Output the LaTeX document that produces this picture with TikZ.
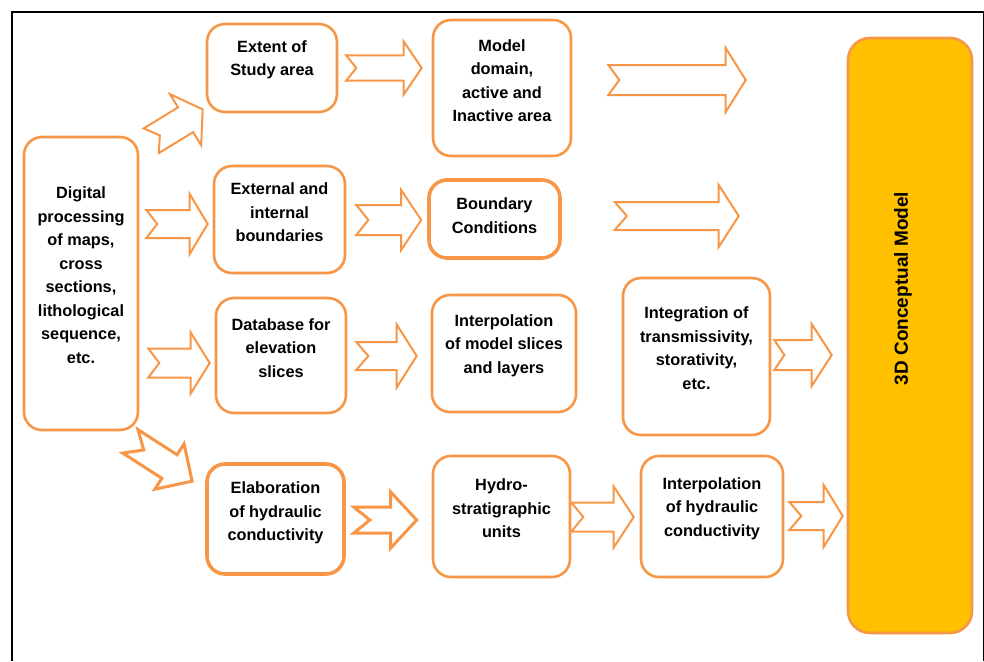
\documentclass[tikz,border=0pt]{standalone}
\usepackage{fontspec}
\setmainfont{Liberation Sans}
\usetikzlibrary{calc}

\definecolor{boxorange}{HTML}{F79646}
\definecolor{modelgold}{HTML}{FFC000}

\tikzset{
  stepbox/.style={draw=boxorange, line width=2.6, rounded corners=18, fill=white},
  boldbox/.style={stepbox, line width=3.6},
  boxtext/.style={align=center, inner sep=0, font=\bfseries\fontsize{16.3}{23.5}\selectfont},
  fatarrow/.style={draw=boxorange, line width=2, fill=white, line join=miter},
}

% block arrow: [opts] {tail} {tip} {half body} {half head} {head length} {notch}
\newcommand{\fatarr}[7][]{%
  \path let \p1=#2, \p2=#3 in \pgfextra{%
    \pgfmathsetmacro\arrang{atan2((\y2)-(\y1),(\x2)-(\x1))}%
    \pgfmathsetmacro\arrlen{veclen((\x2)-(\x1),(\y2)-(\y1))}%
    \xdef\arrang{\arrang}\xdef\arrlen{\arrlen}};
  \draw[fatarrow,#1,shift={#2},rotate=\arrang] (0,#4) -- ({\arrlen-#6},#4) -- ({\arrlen-#6},#5)
    -- (\arrlen,0) -- ({\arrlen-#6},-#5) -- ({\arrlen-#6},-#4) -- (0,-#4) -- (#7,0) -- cycle;
}

\begin{document}
\begin{tikzpicture}[x=1pt,y=-1pt]
      \useasboundingbox (0,0) rectangle (984,661);

      % frame
      \draw[line width=2.8] (984,12) -- (12,12) -- (12,661);
      \draw[line width=1] (983,12) -- (983,661);

      % boxes
      \node[stepbox, minimum width=114, minimum height=293] (dig) at (81,283.5) {};
      \node[boxtext] (digT) at ($(dig)+(0,-8.5)$) {Digital\\processing\\of maps,\\cross\\sections,\\lithological\\sequence,\\etc.};

      \node[stepbox, minimum width=130, minimum height=88] (ext) at (272,68) {};
      \node[boxtext] (extT) at ($(ext)+(0,-8)$) {Extent of\\Study area};

      \node[stepbox, minimum width=138, minimum height=136] (dom) at (502,88) {};
      \node[boxtext] (domT) at ($(dom)+(0,-7.5)$) {Model\\domain,\\active and\\Inactive area};

      \node[stepbox, minimum width=131, minimum height=107] (bnd) at (279.5,219.5) {};
      \node[boxtext] (bndT) at ($(bnd)+(0,-7)$) {External and\\internal\\boundaries};

      \node[boldbox, minimum width=131, minimum height=78] (bc) at (494.5,219) {};
      \node[boxtext] (bcT) at ($(bc)+(0,-3.5)$) {Boundary\\Conditions};

      \node[stepbox, minimum width=130, minimum height=115] (db) at (281,355.5) {};
      \node[boxtext] (dbT) at ($(db)+(0,-7.5)$) {Database for\\elevation\\slices};

      \node[stepbox, minimum width=144, minimum height=117] (ipl) at (504,353.5) {};
      \node[boxtext] (iplT) at ($(ipl)+(0,-8)$) {Interpolation\\of model slices\\and layers};

      \node[stepbox, minimum width=147, minimum height=157] (intg) at (696.5,356.5) {};
      \node[boxtext] (intgT) at ($(intg)+(0,-8.5)$) {Integration of\\transmissivity,\\storativity,\\etc.};

      \node[boldbox, minimum width=137, minimum height=110] (ela) at (275.5,519) {};
      \node[boxtext] (elaT) at ($(ela)+(0,-6)$) {Elaboration\\of hydraulic\\conductivity};

      \node[stepbox, minimum width=137, minimum height=121] (hyd) at (501.5,516.5) {};
      \node[boxtext] (hydT) at ($(hyd)+(0,-8)$) {Hydro-\\stratigraphic\\units};

      \node[stepbox, minimum width=142, minimum height=121] (ihc) at (712,516.5) {};
      \node[boxtext] (ihcT) at ($(ihc)+(0,-8)$) {Interpolation\\of hydraulic\\conductivity};

      \node[stepbox, fill=modelgold, rounded corners=22, minimum width=124, minimum height=595] (cm) at (910,335.5) {};
      \node[boxtext, rotate=90, font=\bfseries\fontsize{19}{23}\selectfont] (cmT) at ($(cm)+(-7,-47)$) {3D Conceptual Model};

      % block arrows
      \fatarr{($(dig.north east)+(12,5)$)}{($(ext.south west)+(-3,-4)$)}{14.5}{30}{20}{10}
      \fatarr{($(ext.east)+(8,0)$)}{($(ext.east -| dom.west)+(-10,0)$)}{12.5}{26.5}{18}{10}
      \fatarr{($(dom.east)+(36,-8)$)}{($(dom.east -| cm.west)+(-101,-8)$)}{15}{32}{20}{11}
      \fatarr{($(dig.east |- bnd.west)+(7,4.5)$)}{($(bnd.west)+(-5,4.5)$)}{14}{30}{18}{11}
      \fatarr{($(bnd.east)+(10,0.5)$)}{($(bc.west |- bnd.east)+(-6,0.5)$)}{15}{30}{20}{12}
      \fatarr{($(bc.east)+(53,-3)$)}{($(bc.east -| cm.west)+(-108,-3)$)}{14}{31}{20}{12}
      \fatarr{($(dig.east |- db.west)+(9,7.5)$)}{($(db.west)+(-5,7.5)$)}{14.5}{30.5}{19}{11}
      \fatarr{($(db.east)+(9,0.5)$)}{($(ipl.west |- db.east)+(-14,0.5)$)}{14}{31.5}{20}{12}
      \fatarr{($(intg.east)+(3,-1.5)$)}{($(cm.west |- intg.east)+(-15,-1.5)$)}{15}{31}{20}{10}
      \fatarr[line width=3]{($(dig.south east)+(-9,10)$)}{($(ela.north west)+(-13,19)$)}{14}{27}{27}{16}
      \fatarr[line width=3]{($(ela.east)+(8,1)$)}{($(hyd.west |- ela.east)+(-15,1)$)}{13}{28}{26}{16}
      \fatarr{($(hyd.east)+(0,0.5)$)}{($(ihc.west)+(-6,0.5)$)}{14.5}{30.5}{20}{12}
      \fatarr{($(ihc.east)+(5,-0.5)$)}{($(cm.west |- ihc.east)+(-4,-0.5)$)}{14}{31}{19}{12}
\end{tikzpicture}
\end{document}
